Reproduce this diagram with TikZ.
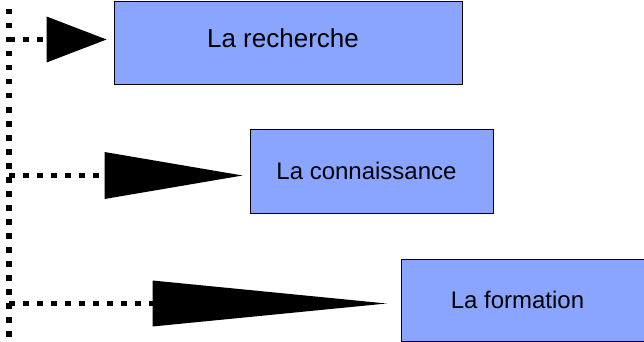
\documentclass[tikz,border=0pt]{standalone}
\usepackage{fontspec}
\setmainfont{Liberation Sans}
\usepackage{xcolor}
\usetikzlibrary{arrows.meta,calc}

\definecolor{bleuboite}{RGB}{138,165,255}

\begin{document}
\begin{tikzpicture}[x=1pt, y=-1pt,
  boite/.style={rectangle, draw=black, line width=0.9pt, fill=bleuboite, inner sep=0pt, minimum height=83pt, font=\fontsize{24}{28}\selectfont},
  pointille/.style={line width=5.5pt, dash pattern=on 5.5pt off 8.5pt}]

\useasboundingbox (0,0) rectangle (644,342);

\node[boite, minimum width=348pt, font=\fontsize{26}{30}\selectfont] (rech) at (288, 42.5) {\hspace*{-10pt}\raisebox{8pt}{La recherche}};
\node[boite, minimum width=243pt, minimum height=84pt] (conn) at (371.5, 171) {\hspace*{-10pt}La connaissance};
\node[boite, minimum width=243pt, minimum height=82pt] (form) at (522.5, 300) {\hspace*{-10pt}La formation};

\coordinate (haut) at (9, -5);
\coordinate (bas) at (9, 350);
\coordinate (d1) at (9, 39.5);
\coordinate (d2) at (9, 175.5);
\coordinate (d3) at (9, 303.5);

\draw [pointille] (haut) -- (bas);

\draw [pointille, -{Triangle[length=60pt, width=46pt, line width=0pt]}, shorten >=7pt] (d1) -- (d1 -| rech.west);
\draw [pointille, -{Triangle[length=138pt, width=47pt, line width=0pt]}, shorten >=7pt] (d2) -- (d2 -| conn.west);
\draw [pointille, -{Triangle[length=234pt, width=46pt, line width=0pt]}, shorten >=14pt] (d3) -- (d3 -| form.west);

\end{tikzpicture}
\end{document}
